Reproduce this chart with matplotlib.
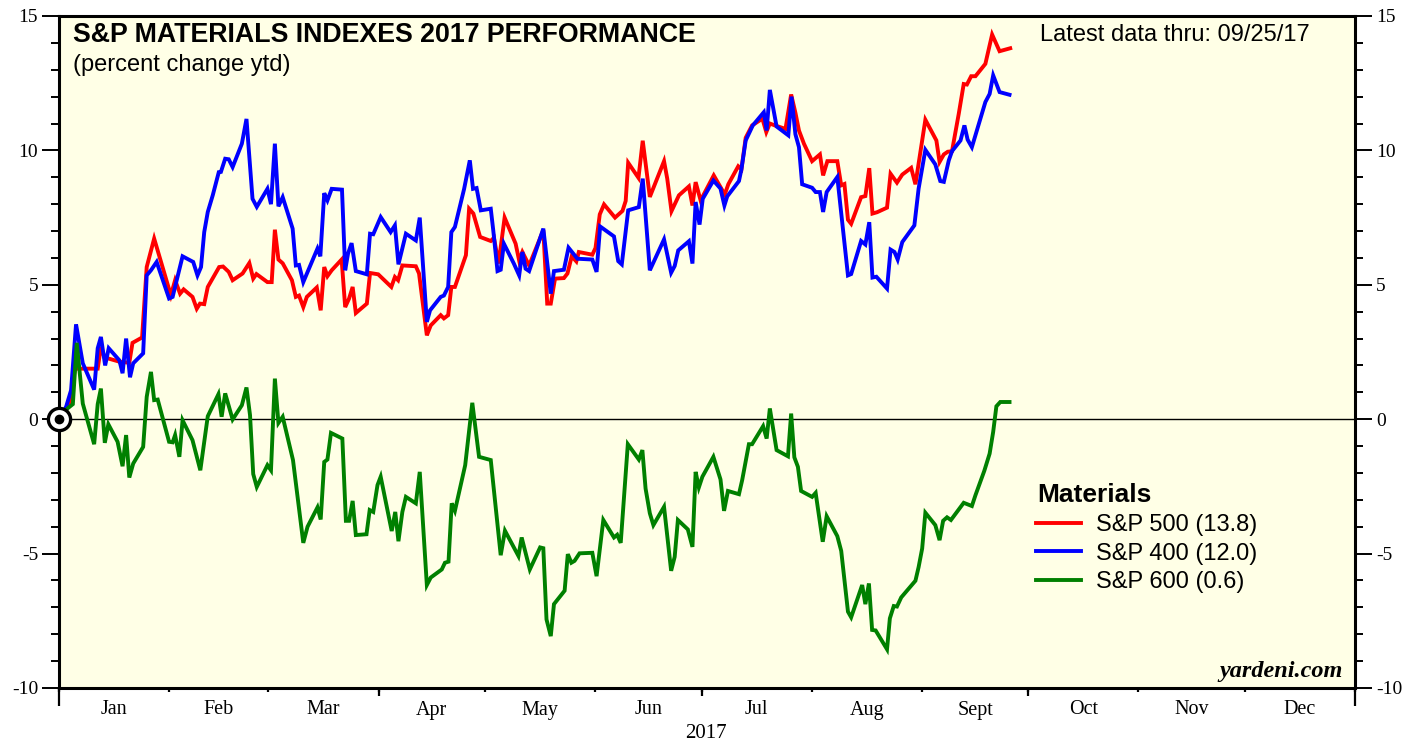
import numpy as np
import pandas as pd
import matplotlib
matplotlib.use("Agg")
import matplotlib.pyplot as plt
import matplotlib.dates as mdates

plt.rcParams['axes.unicode_minus'] = False

# ---------------- data (days since 2017-01-01, percent change ytd) ----------------
sp500_days = [0.0, 2.9, 4.5, 10.9, 11.8, 12.8, 17.0, 19.8, 20.7, 23.4, 24.7, 26.8, 31.5, 32.7, 34.1, 35.1,
              37.6, 38.8, 39.7, 40.9, 41.9, 45.1, 46.2, 47.8, 48.9, 51.7, 53.6, 54.7, 55.6, 58.7, 59.9,
              60.8, 61.8, 63.0, 65.6, 66.7, 67.6, 68.8, 69.8, 72.6, 73.7, 74.7, 75.6, 76.8, 79.6, 80.6,
              81.7, 82.7, 83.6, 86.7, 87.6, 89.9, 93.6, 94.6, 95.5, 96.7, 100.5, 101.4, 103.6, 104.7,
              107.5, 108.4, 109.6, 110.5, 111.5, 114.6, 115.5, 116.7, 118.6, 121.6, 122.5, 123.8, 125.5,
              128.6, 129.6, 130.5, 132.4, 136.4, 137.5, 138.5, 139.7, 142.2, 143.2, 144.4, 145.7, 146.4,
              150.2, 151.1, 152.3, 153.5, 156.6, 158.7, 159.6, 160.3, 163.2, 164.4, 166.4, 170.4, 171.3,
              172.5, 174.6, 177.4, 178.4, 179.3, 180.7, 184.4, 187.5, 188.5, 191.3, 192.2, 193.4, 195.2,
              198.1, 199.2, 200.2, 201.6, 204.6, 206.2, 207.4, 208.4, 209.8, 212.1, 214.3, 215.2, 216.4,
              219.2, 220.3, 221.2, 222.2, 223.1, 225.9, 227.1, 228.2, 229.1, 230.4, 233.2, 234.2, 236.0,
              237.5, 240.0, 241.2, 244.0, 247.1, 248.0, 249.2, 250.3, 251.5, 253.4, 254.8, 255.7, 256.9,
              258.1, 260.9, 262.8, 264.9, 267.9]
sp500_vals = [0.0, 0.52, 1.88, 1.88, 2.69, 2.30, 2.14, 2.10, 2.84, 3.04, 5.66, 6.72, 4.61, 5.17, 4.67, 4.83,
              4.55, 4.11, 4.30, 4.28, 4.92, 5.66, 5.68, 5.48, 5.17, 5.42, 5.81, 5.23, 5.40, 5.10, 5.10,
              7.05, 5.94, 5.80, 5.17, 4.55, 4.60, 4.17, 4.55, 4.90, 4.05, 5.66, 5.32, 5.54, 5.94, 4.17,
              4.49, 4.92, 3.95, 4.30, 5.44, 5.39, 4.92, 5.29, 5.17, 5.72, 5.69, 5.42, 3.12, 3.49,
              3.87, 3.75, 3.87, 4.92, 4.92, 6.10, 7.83, 7.65, 6.78, 6.63, 6.75, 5.79, 7.50,
              6.53, 5.90, 6.22, 5.72, 7.03, 4.30, 4.30, 5.23, 5.25, 5.42, 6.06, 5.87, 6.22,
              6.12, 6.37, 7.62, 7.99, 7.50, 7.75, 8.12, 9.54, 8.98, 10.36, 8.27, 9.60, 8.95,
              7.74, 8.33, 8.66, 7.95, 8.82, 8.14, 9.07, 8.36, 8.74, 9.41, 9.30, 10.47, 10.93,
              11.18, 10.68, 11.00, 10.93, 10.80, 12.08, 11.40, 10.74, 10.25, 9.60, 9.85, 9.07, 9.60,
              9.60, 8.70, 8.75, 7.42, 7.27, 8.26, 8.30, 9.34, 7.65, 7.70, 7.87, 9.13, 8.80,
              9.10, 9.35, 8.74, 11.14, 10.37, 9.57, 9.85, 9.95, 9.97, 11.36, 12.47, 12.45, 12.76,
              12.76, 13.22, 14.31, 13.69, 13.80]

sp400_days = [0.0, 2.0, 3.4, 4.8, 6.7, 9.9, 10.9, 11.8, 13.0, 14.0, 17.0, 17.9, 18.9, 20.0, 20.9, 23.7,
              24.7, 25.9, 27.5, 31.0, 32.0, 34.8, 37.8, 39.0, 40.0, 40.9, 41.9, 43.3, 45.0, 45.6, 46.8,
              47.8, 48.9, 51.5, 52.8, 54.5, 55.7, 58.7, 59.7, 60.8, 61.8, 63.0, 65.8, 66.7, 67.6, 68.8,
              72.8, 73.6, 74.7, 75.6, 76.8, 79.7, 80.6, 81.4, 82.4, 83.6, 86.7, 87.6, 88.5, 90.6, 93.4,
              94.6, 95.6, 97.7, 100.5, 101.6, 103.6, 104.5, 107.5, 108.4, 109.6, 110.5, 111.5, 114.1,
              115.7, 116.6, 117.6, 118.8, 121.6, 122.3, 123.5, 124.4, 125.3, 128.1, 129.6, 130.5, 131.4,
              132.4, 136.4, 138.5, 139.4, 142.2, 143.5, 146.0, 150.2, 151.4, 152.4, 156.3, 157.5, 158.5,
              160.3, 163.3, 164.4, 166.4, 170.4, 172.4, 173.4, 174.4, 177.4, 178.4, 179.3, 180.4, 181.3,
              184.3, 186.3, 187.4, 188.2, 191.5, 192.2, 193.4, 195.4, 198.5, 199.3, 200.2, 202.1, 205.4,
              206.3, 207.4, 208.4, 209.3, 212.1, 213.1, 214.3, 215.2, 216.2, 219.2, 222.2, 223.1, 225.9,
              227.1, 228.2, 229.1, 230.2, 233.2, 234.2, 235.3, 236.2, 237.5, 240.9, 242.1, 244.0, 246.8,
              248.2, 249.2, 250.6, 251.5, 253.9, 255.0, 255.9, 257.1, 260.9, 262.1, 263.1, 264.9, 267.7]
sp400_vals = [0.0, 0.46, 1.08, 3.53, 2.08, 1.10, 2.64, 3.06, 2.00, 2.64, 2.19, 1.71, 3.00, 1.56, 2.08, 2.45,
              5.35, 5.54, 5.85, 4.49, 4.55, 6.06, 5.85, 5.35, 5.66, 6.96, 7.71, 8.33, 9.19, 9.20, 9.69,
              9.67, 9.38, 10.25, 11.17, 8.20, 7.90, 8.57, 8.00, 10.25, 7.92, 8.26, 7.09, 5.72, 5.74, 5.10,
              6.35, 6.06, 8.41, 8.14, 8.57, 8.54, 5.54, 6.16, 6.55, 5.51, 5.39, 6.90, 6.88, 7.52, 6.96,
              7.21, 5.76, 6.90, 6.65, 7.50, 3.62, 4.05, 4.55, 4.60, 4.92, 6.96, 7.15, 8.57,
              9.63, 8.57, 8.60, 7.77, 7.83, 7.03, 5.51, 5.56, 6.53, 5.79, 5.35, 6.22, 5.60,
              5.51, 7.09, 4.67, 5.51, 5.56, 6.38, 5.97, 5.94, 5.48, 7.17, 6.80, 5.88, 5.76,
              7.77, 7.89, 8.95, 5.54, 6.69, 5.45, 5.70, 6.28, 6.62, 5.79, 8.08, 7.24, 8.20,
              8.88, 8.58, 7.95, 8.29, 8.86, 9.30, 10.37, 10.93, 11.42, 10.74, 12.25, 10.89, 10.56,
              12.00, 10.60, 10.12, 8.74, 8.61, 8.45, 8.45, 7.71, 8.45, 9.01, 5.35, 5.40, 6.63,
              6.50, 7.33, 5.27, 5.30, 4.86, 6.31, 6.22, 5.94, 6.59, 7.21, 8.58, 10.02, 9.48,
              8.86, 8.83, 9.63, 9.97, 10.37, 10.93, 10.40, 10.12, 11.80, 12.10, 12.79, 12.17, 12.07]

sp600_days = [0.0, 2.4, 3.9, 5.0, 6.7, 9.9, 10.9, 11.8, 12.9, 13.9, 16.5, 17.9, 18.9, 19.8, 20.9, 23.7,
              24.7, 25.9, 26.8, 27.8, 31.0, 32.0, 32.7, 33.9, 34.8, 37.6, 39.8, 41.9, 44.9, 45.8, 46.8,
              48.9, 51.5, 52.8, 53.8, 54.7, 55.7, 58.7, 59.7, 60.8, 61.8, 63.0, 65.9, 68.8, 70.0, 72.8,
              73.7, 74.7, 75.6, 76.6, 79.8, 80.8, 81.7, 82.7, 83.6, 86.6, 87.5, 88.5, 89.7, 90.6, 93.7,
              94.7, 95.6, 96.7, 97.7, 100.5, 101.6, 103.6, 104.7, 107.8, 108.7, 109.7, 110.6, 111.5,
              114.4, 116.4, 118.3, 121.6, 124.4, 125.6, 129.4, 130.3, 132.6, 135.5, 136.4, 137.3, 138.5,
              139.4, 142.4, 143.3, 144.3, 145.2, 146.6, 150.2, 151.4, 152.4, 153.3, 156.3, 157.2, 158.2,
              160.2, 163.3, 164.3, 165.2, 166.4, 167.4, 170.4, 172.4, 173.4, 174.3, 177.1, 178.4, 179.3,
              180.2, 181.2, 184.3, 186.3, 187.3, 188.4, 191.5, 192.4, 194.3, 195.2, 198.3, 199.3, 200.2,
              202.1, 205.3, 206.2, 207.1, 208.1, 209.0, 212.1, 213.1, 215.1, 216.2, 219.2, 220.3, 222.2,
              223.1, 226.2, 227.1, 228.1, 229.0, 230.0, 233.2, 234.0, 235.1, 236.0, 237.2, 241.2, 242.1,
              243.1, 244.0, 246.8, 248.0, 249.0, 250.1, 251.2, 254.8, 257.1, 258.1, 260.6, 262.1, 263.1,
              264.0, 265.1, 267.7]
sp600_vals = [0.0, 0.40, 0.56, 2.84, 0.58, -0.93, 0.56, 1.14, -0.88, -0.19, -0.84, -1.75, -0.59, -2.17, -1.65, -1.03,
              0.83, 1.76, 0.71, 0.73, -0.84, -0.86, -0.59, -1.40, -0.04, -0.78, -1.90, 0.11, 0.93, 0.09, 0.96,
              -0.01, 0.52, 1.18, 0.15, -2.04, -2.52, -1.71, -1.90, 1.51, -0.14, 0.09, -1.52, -4.60, -4.00, -3.28,
              -3.73, -1.59, -1.50, -0.51, -0.72, -3.78, -3.78, -3.04, -4.31, -4.28, -3.38, -3.45, -2.45, -2.14, -4.16,
              -3.45, -4.54, -3.45, -2.89, -3.13, -1.96, -6.17, -5.89, -5.59, -5.34, -5.30, -3.13, -3.41,
              -1.71, 0.61, -1.40, -1.52, -5.06, -4.15, -5.09, -4.40, -5.59, -4.77, -4.80, -7.45, -8.07,
              -6.88, -6.38, -5.02, -5.34, -5.27, -4.99, -4.97, -5.84, -4.75, -3.75, -4.40, -4.30, -4.60,
              -0.93, -1.50, -1.15, -2.58, -3.50, -3.94, -3.26, -5.64, -5.12, -3.75, -4.10, -4.75, -1.96,
              -2.54, -2.14, -1.40, -2.24, -3.41, -2.67, -2.79, -2.27, -0.93, -0.93, -0.26, -0.72, 0.40,
              -1.15, -1.38, 0.21, -1.42, -1.77, -2.67, -2.89, -2.74, -4.56, -3.61, -4.35, -4.90, -7.16,
              -7.37, -6.17, -6.88, -6.11, -7.84, -7.86, -8.56, -7.41, -6.95, -6.97, -6.63, -6.01, -5.50,
              -4.81, -3.48, -3.94, -4.50, -3.78, -3.65, -3.75, -3.11, -3.23, -2.83, -1.92, -1.28, -0.47,
              0.48, 0.64, 0.64]

series_labels = ["S&P 500 (13.8)", "S&P 400 (12.0)", "S&P 600 (0.6)"]
series_colors = ["#FF0000", "#0000FF", "#008000"]
month_labels = ["Jan", "Feb", "Mar", "Apr", "May", "Jun", "Jul", "Aug", "Sept", "Oct", "Nov", "Dec"]
ytick_values = [-10, -5, 0, 5, 10, 15]

start = pd.Timestamp("2017-01-01")
def to_dates(days):
    return start + pd.to_timedelta(np.array(days), unit="D")

# ---------------- figure ----------------
W, H = 1419, 742
fig = plt.figure(figsize=(W / 100, H / 100), dpi=100)
ax = fig.add_axes([59 / W, 1 - 688 / H, (1355 - 59) / W, (688 - 16) / H])
ax.set_facecolor("#FFFFE6")

sans = ["Liberation Sans", "DejaVu Sans"]
serif = ["Liberation Serif", "DejaVu Serif"]

ax.axhline(0, color="black", lw=1.0, zorder=1)

for days, vals, lab, col in zip([sp500_days, sp400_days, sp600_days],
                                [sp500_vals, sp400_vals, sp600_vals],
                                series_labels, series_colors):
    ax.plot(to_dates(days), vals, color=col, lw=2.8, label=lab, zorder=3,
            solid_joinstyle="miter")

# origin marker
ax.plot([start], [0], marker="o", ms=16, mfc="white", mec="black", mew=2.4, zorder=6, clip_on=False)
ax.plot([start], [0], marker="o", ms=6, mfc="black", mec="black", zorder=7, clip_on=False)

ax.set_xlim(start, pd.Timestamp("2018-01-01"))
ax.set_ylim(-10, 15)

for s in ax.spines.values():
    s.set_linewidth(2.2)

# y axis ticks both sides
ax.set_yticks(ytick_values)
ax.set_yticklabels([str(v) for v in ytick_values])
ax.yaxis.set_minor_locator(matplotlib.ticker.MultipleLocator(1))
ax.tick_params(axis="y", which="major", direction="out", length=12, width=1.4,
               left=True, right=True, labelleft=True, labelright=True, pad=3,
               labelsize=14)
ax.tick_params(axis="y", which="minor", direction="out", length=6, width=1.4,
               left=True, right=True)
for t in ax.get_yticklabels():
    t.set_fontfamily(serif)

# x axis: labels at mid-month, small ticks at month starts
month_starts = pd.date_range("2017-01-01", "2018-01-01", freq="MS")
mid = [ms + (month_starts[i + 1] - ms) / 2 for i, ms in enumerate(month_starts[:-1])]
ax.set_xticks(mid)
ax.set_xticklabels(month_labels)
ax.tick_params(axis="x", which="major", length=0, pad=9, labelsize=14.5)
for t in ax.get_xticklabels():
    t.set_fontfamily(serif)
ax.set_xticks(month_starts, minor=True)
ax.tick_params(axis="x", which="minor", direction="out", length=3, width=1.6)

sec_q = ax.secondary_xaxis("bottom")
sec_q.set_xticks(pd.to_datetime(["2017-04-01", "2017-07-01", "2017-10-01"]))
sec_q.set_xticklabels([])
sec_q.tick_params(length=6, width=1.6, direction="out")
sec_q.spines["bottom"].set_visible(False)

sec_y = ax.secondary_xaxis("bottom")
sec_y.set_xticks(pd.to_datetime(["2017-01-01", "2018-01-01"]))
sec_y.set_xticklabels([])
sec_y.tick_params(length=13, width=1.6, direction="out")
sec_y.spines["bottom"].set_visible(False)

fig.text(706 / W, 1 - 733 / H, "2017", ha="center", va="center", fontsize=15, family=serif)

# titles
ax.text(73 / W, 1 - 35 / H, "S&P MATERIALS INDEXES 2017 PERFORMANCE", transform=fig.transFigure,
        ha="left", va="center", fontsize=19.3, fontweight="bold", family=sans)
ax.text(73 / W, 1 - 65 / H, "(percent change ytd)", transform=fig.transFigure,
        ha="left", va="center", fontsize=17, family=sans)
ax.text(1310 / W, 1 - 35 / H, "Latest data thru: 09/25/17", transform=fig.transFigure,
        ha="right", va="center", fontsize=17, family=sans)
ax.text(1343 / W, 1 - 672 / H, "yardeni.com", transform=fig.transFigure,
        ha="right", va="center", fontsize=17.5, fontweight="bold", style="italic", family=serif)

# legend
fig.text(1037 / W, 1 - 495 / H, "Materials", ha="left", va="center", fontsize=19,
         fontweight="bold", family=sans)
handles, labels = ax.get_legend_handles_labels()
leg = ax.legend(handles, labels, loc="upper left", bbox_to_anchor=(1036 / W, 1 - 514 / H),
                bbox_transform=fig.transFigure, frameon=False, handlelength=1.9,
                handletextpad=0.65, labelspacing=0.28, borderpad=0, borderaxespad=0,
                prop={"family": sans, "size": 17})

fig.savefig("out.png", dpi=100)
